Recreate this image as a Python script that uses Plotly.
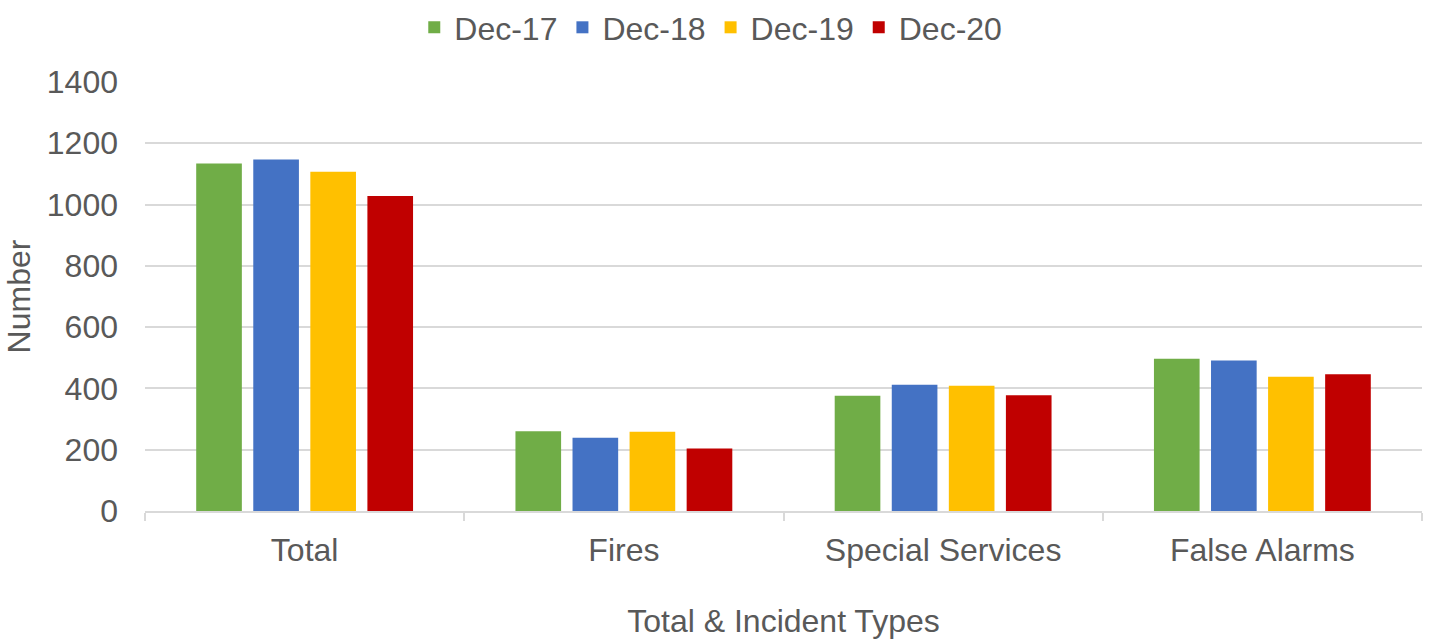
import plotly.graph_objects as go

categories = ["Total", "Fires", "Special Services", "False Alarms"]
series_names = ["Dec-17", "Dec-18", "Dec-19", "Dec-20"]
dec17 = [1134, 260, 376, 497]
dec18 = [1147, 239, 412, 491]
dec19 = [1107, 259, 409, 438]
dec20 = [1028, 204, 378, 446]
colors = ["#70AD47", "#4472C4", "#FFC000", "#C00000"]

FONT = "Liberation Sans, Arial, sans-serif"
GREY = "#595959"
FS = 32

fig = go.Figure()
for name, vals, col in zip(series_names, [dec17, dec18, dec19, dec20], colors):
    fig.add_trace(go.Bar(x=categories, y=vals, name=name, marker_color=col,
                         marker_line_width=0))

fig.update_layout(
    width=1433, height=639,
    margin=dict(l=145, r=11, t=82, b=128, autoexpand=False),
    paper_bgcolor="white", plot_bgcolor="white",
    barmode="group", bargap=0.285, bargroupgap=0.2,
    font=dict(family=FONT, color=GREY, size=FS),
    legend=dict(orientation="h", xref="container", x=0.496, xanchor="center",
                yref="container", y=1.0, yanchor="top",
                font=dict(size=FS, color=GREY), itemwidth=30,
                traceorder="normal"),
)
fig.update_yaxes(range=[0, 1400], dtick=200, showgrid=True, gridcolor="#D9D9D9",
                 gridwidth=1.5, zeroline=False, showline=False, ticks="",
                 ticklabelstandoff=26, automargin=False,
                 title=dict(text="Number", font=dict(size=FS, color=GREY), standoff=6),
                 tickfont=dict(size=FS, color=GREY))
fig.update_xaxes(showline=True, linecolor="#D9D9D9", linewidth=1.5,
                 ticks="outside", tickson="boundaries", ticklen=8,
                 tickcolor="#D9D9D9", tickwidth=1.5, ticklabelstandoff=10,
                 automargin=False,
                 tickfont=dict(size=FS, color=GREY),
                 title=dict(text="Total & Incident Types",
                            font=dict(size=FS, color=GREY), standoff=42))

fig.write_html("out.html")
